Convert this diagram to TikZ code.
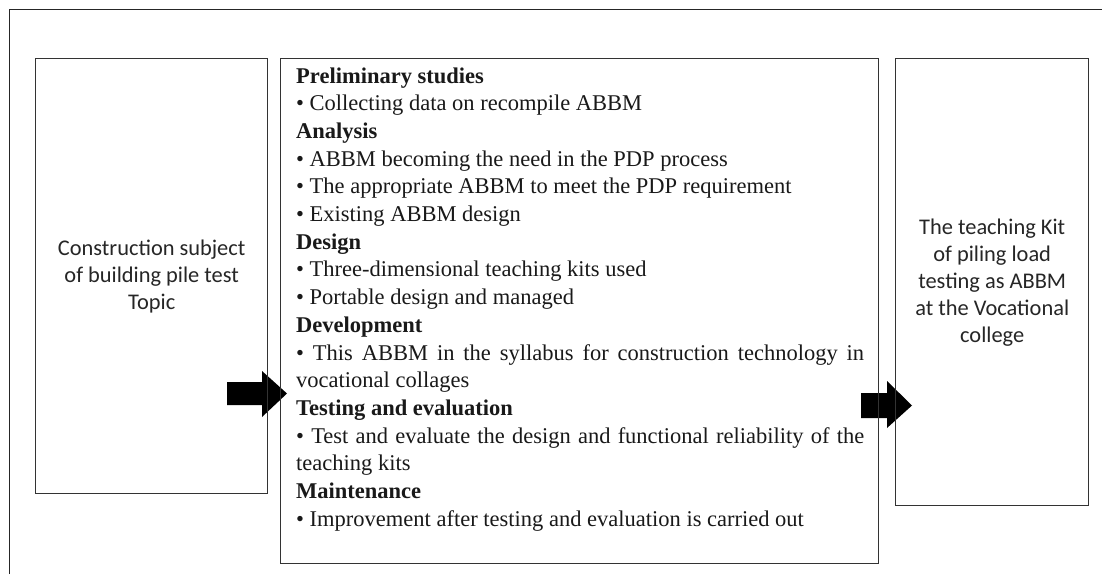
\documentclass[tikz,border=0pt]{standalone}
\usepackage{fontspec}
\setmainfont{Liberation Serif}
\newfontfamily\calibfont{Carlito}
\tikzset{
  box/.style={draw=black!80, line width=1.4pt, inner sep=0pt, anchor=north west},
  sansbox/.style={box, font=\calibfont\fontsize{22.4}{27}\selectfont, align=center, text=black!85},
  steptext/.style={font=\fontsize{22.5}{27.7}\selectfont, text width=568pt, align=justify, inner sep=0pt, text=black!90},
  blockarrow/.style={fill=black}
}
\begin{document}
\begin{tikzpicture}[x=1pt,y=-1pt]
\useasboundingbox (0,0) rectangle (1102,574);
\fill[white] (0,0) rectangle (1102,574);
\draw[line width=1.5pt, black!85] (9.5,574) -- (9.5,9.5) -- (1102,9.5);

% block arrows (drawn first, box borders pass over them)
\coordinate (a1) at (227,393.5);
\coordinate (a2) at (861,405.5);
\fill[blockarrow] (a1) ++(0,-11.5) -- ++(35,0) -- ++(0,-11) -- (287,393.5) -- (262,417) -- ++(0,-12) -- ++(-35,0) -- cycle;
\fill[blockarrow] (a2) ++(0,-12.5) -- ++(26,0) -- ++(0,-12) -- (912,405.5) -- (887,428) -- ++(0,-10) -- ++(-26,0) -- cycle;

% boxes
\node[sansbox, minimum width=232pt, minimum height=435pt] (src) at (35,58)
  {Construction subject\\of building pile test\\Topic};
\node[box, minimum width=598pt, minimum height=505pt] (steps) at (280,58) {};
\node[sansbox, minimum width=193pt, minimum height=447pt] (kit) at (895,58)
  {The teaching Kit\\of piling load\\testing as ABBM\\at the Vocational\\college};

% process text
\node[steptext, anchor=base west] (stepst) at (296,83) {\parindent=0pt\hyphenpenalty=10000
\textbf{Preliminary studies}\par
• Collecting data on recompile ABBM\par
\textbf{Analysis}\par
• ABBM becoming the need in the PDP process\par
• The appropriate ABBM to meet the PDP requirement\par
• Existing ABBM design\par
\textbf{Design}\par
• Three-dimensional teaching kits used\par
• Portable design and managed\par
\textbf{Development}\par
• This ABBM in the syllabus for construction technology in vocational collages\par
\textbf{Testing and evaluation}\par
• Test and evaluate the design and functional reliability of the teaching kits\par
\textbf{Maintenance}\par
• Improvement after testing and evaluation is carried out\par};
\end{tikzpicture}
\end{document}
